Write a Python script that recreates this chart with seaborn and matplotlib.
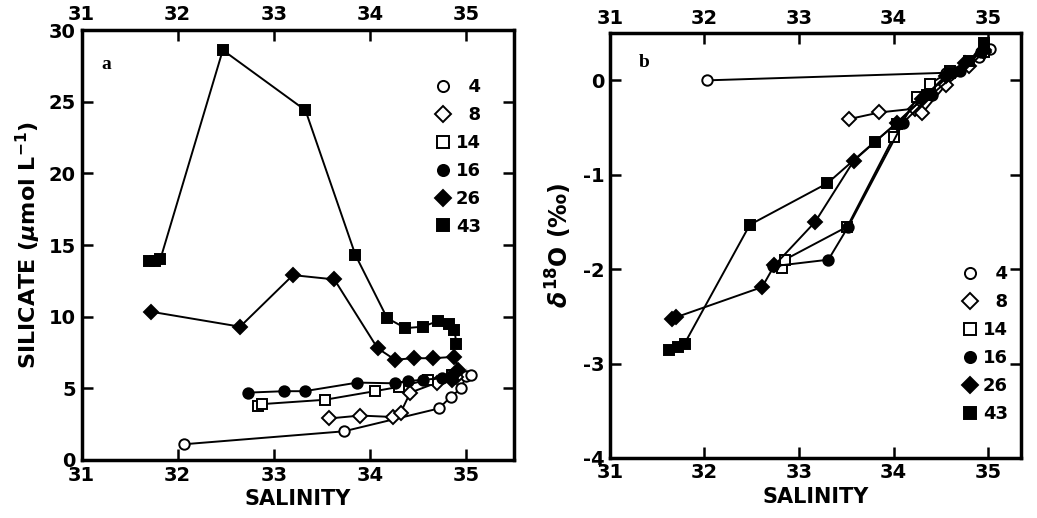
import matplotlib
matplotlib.use("Agg")
import matplotlib.pyplot as plt
import seaborn as sns
import pandas as pd
from matplotlib.lines import Line2D

# ---- data: panel a (salinity vs silicate) ----
labels = ["4", "8", "14", "16", "26", "43"]
markers = ["o", "D", "s", "o", "D", "s"]
filled = [False, False, False, True, True, True]

sal_a_4 = [32.07, 33.73, 34.72, 34.84, 34.95, 35.0, 35.05, 35.0]
sil_4 = [1.1, 2.0, 3.6, 4.4, 5.0, 5.35, 5.9, 6.4]
sal_a_8 = [33.58, 33.9, 34.24, 34.32, 34.42, 34.7, 34.9]
sil_8 = [2.9, 3.1, 3.0, 3.3, 4.7, 5.4, 5.8]
sal_a_14 = [32.84, 32.88, 33.53, 34.05, 34.3, 34.6, 34.85]
sil_14 = [3.8, 3.9, 4.2, 4.8, 5.1, 5.6, 5.9]
sal_a_16 = [32.73, 33.11, 33.32, 33.87, 34.26, 34.4, 34.55, 34.75, 34.87]
sil_16 = [4.7, 4.8, 4.8, 5.4, 5.35, 5.5, 5.6, 5.7, 6.0]
sal_a_26 = [31.72, 32.65, 33.2, 33.63, 34.08, 34.26, 34.46, 34.66, 34.88, 34.92, 34.85]
sil_26 = [10.35, 9.3, 12.9, 12.6, 7.8, 7.0, 7.1, 7.1, 7.2, 6.3, 5.6]
sal_a_43 = [31.7, 31.76, 31.82, 32.47, 33.33, 33.85, 34.18, 34.37, 34.55, 34.71, 34.82, 34.88, 34.9]
sil_43 = [13.9, 13.9, 14.0, 28.6, 24.4, 14.3, 9.9, 9.2, 9.3, 9.7, 9.5, 9.1, 8.1]

# ---- data: panel b (salinity vs delta 18O) ----
sal_b_4 = [32.03, 34.55, 34.75, 34.9, 35.02]
d18_4 = [0.0, 0.08, 0.17, 0.25, 0.33]
sal_b_8 = [33.53, 33.85, 34.22, 34.3, 34.55, 34.8, 34.95]
d18_8 = [-0.41, -0.34, -0.3, -0.35, -0.05, 0.15, 0.3]
sal_b_14 = [32.82, 32.85, 33.51, 34.0, 34.25, 34.38, 34.6, 34.95]
d18_14 = [-1.99, -1.9, -1.55, -0.6, -0.18, -0.04, 0.1, 0.3]
sal_b_16 = [32.72, 33.31, 33.52, 34.1, 34.4, 34.7, 34.92]
d18_16 = [-1.97, -1.9, -1.55, -0.45, -0.15, 0.1, 0.3]
sal_b_26 = [31.66, 31.7, 32.61, 32.74, 33.17, 33.58, 34.03, 34.3, 34.55, 34.75, 34.95]
d18_26 = [-2.53, -2.51, -2.19, -1.96, -1.5, -0.85, -0.45, -0.2, 0.05, 0.18, 0.32]
sal_b_43 = [31.63, 31.72, 31.79, 32.48, 33.3, 33.8, 34.03, 34.35, 34.6, 34.8, 34.95]
d18_43 = [-2.86, -2.83, -2.79, -1.53, -1.09, -0.65, -0.46, -0.15, 0.08, 0.2, 0.4]

xticks = [31, 32, 33, 34, 35]
yticks_a = [0, 5, 10, 15, 20, 25, 30]
yticks_b = [0, -1, -2, -3, -4]

series_a = [(sal_a_4, sil_4), (sal_a_8, sil_8), (sal_a_14, sil_14),
            (sal_a_16, sil_16), (sal_a_26, sil_26), (sal_a_43, sil_43)]
series_b = [(sal_b_4, d18_4), (sal_b_8, d18_8), (sal_b_14, d18_14),
            (sal_b_16, d18_16), (sal_b_26, d18_26), (sal_b_43, d18_43)]

sns.set_theme(style="white")
plt.rcParams["font.family"] = ["DejaVu Sans"]
plt.rcParams["font.weight"] = "bold"
plt.rcParams["text.color"] = "black"
plt.rcParams["axes.labelcolor"] = "black"
plt.rcParams["axes.unicode_minus"] = False

fig = plt.figure(figsize=(10.37, 5.18), dpi=100)
ax_a = fig.add_axes([0.0786, 0.112, 0.4171, 0.830])
ax_b = fig.add_axes([0.588, 0.116, 0.397, 0.820])


def draw(ax, series):
    for (xs, ys), lab, m, f in zip(series, labels, markers, filled):
        df = pd.DataFrame({"x": xs, "y": ys})
        ms = 7 if m == "D" else 7.5
        sns.lineplot(data=df, x="x", y="y", ax=ax, sort=False, color="black",
                     linewidth=1.4, marker=m, markersize=ms,
                     markerfacecolor="black" if f else "white",
                     markeredgecolor="black", markeredgewidth=1.4,
                     legend=False, zorder=3)


def style(ax):
    for s in ax.spines.values():
        s.set_linewidth(2.5)
        s.set_color("black")
    ax.tick_params(axis="both", which="both", direction="in", length=8, width=1.8,
                   top=True, bottom=True, left=True, right=True,
                   labeltop=True, labelbottom=True, labelsize=14, colors="black",
                   pad=4)
    ax.set_xticks(xticks)
    ax.set_xlabel("SALINITY", fontsize=15, fontweight="bold", labelpad=3, color="black")
    for t in ax.get_xticklabels() + ax.get_yticklabels():
        t.set_fontweight("bold")


def legend(ax, loc, anchor):
    handles = [Line2D([], [], linestyle="none", marker=m, markersize=8,
                      markerfacecolor="black" if f else "white", markeredgecolor="black",
                      markeredgewidth=1.4, label=(l if len(l) == 2 else "\u2007" + l))
               for l, m, f in zip(labels, markers, filled)]
    leg = ax.legend(handles=handles, loc=loc, bbox_to_anchor=anchor, frameon=False,
                    handlelength=0.6, handletextpad=0.4, labelspacing=0.55,
                    borderaxespad=0.0, prop={"size": 13, "weight": "bold"})
    for t in leg.get_texts():
        t.set_color("black")
    return leg


draw(ax_a, series_a)
style(ax_a)
ax_a.set_xlim(31, 35.5)
ax_a.set_ylim(0, 30)
ax_a.set_yticks(yticks_a)
ax_a.set_ylabel("SILICATE ($\\mu$mol L$^{-1}$)", fontsize=16, fontweight="bold",
                labelpad=4, color="black")
ax_a.text(0.045, 0.94, "a", transform=ax_a.transAxes, fontsize=14,
          family="Liberation Serif", fontweight="bold", va="top")
legend(ax_a, "upper right", (0.94, 0.905))

draw(ax_b, series_b)
style(ax_b)
ax_b.set_xlim(31, 35.35)
ax_b.set_ylim(-4, 0.5)
ax_b.set_yticks(yticks_b)
ax_b.set_ylabel("$\\delta^{18}$O (‰)", fontsize=17, fontweight="bold", labelpad=6,
                color="black")
ax_b.text(0.07, 0.95, "b", transform=ax_b.transAxes, fontsize=14,
          family="Liberation Serif", fontweight="bold", va="top")
legend(ax_b, "lower right", (0.985, 0.065))

fig.savefig("out.png", dpi=100)
